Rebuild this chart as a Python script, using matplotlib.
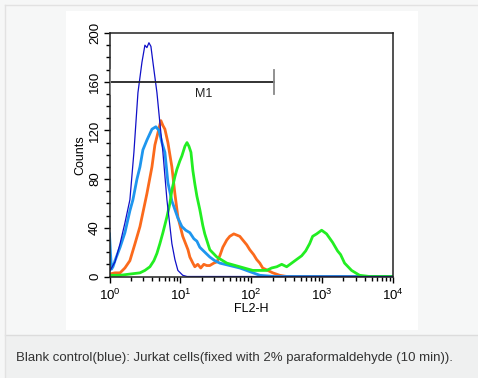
import numpy as np
import matplotlib
matplotlib.use('Agg')
import matplotlib.pyplot as plt
from matplotlib.patches import Rectangle
from matplotlib.lines import Line2D
import matplotlib.ticker as ticker

plt.rcParams['font.family'] = ['Liberation Sans', 'DejaVu Sans']

# ---------------------------------------------------------------------------
# Histogram traces (FL2-H value, counts)
# ---------------------------------------------------------------------------
blank_x = [1.0, 1.195, 1.41, 1.65, 1.94, 2.21, 2.52, 2.87, 3.16, 3.37, 3.60,
           3.84, 4.10, 4.67, 5.14, 5.67, 6.46, 7.59, 8.37, 9.22, 10.8, 12.4,
           10000]
blank_y = [4, 12, 27, 44, 63, 102, 151, 176, 190, 188, 192,
           189, 176, 151, 126, 102, 63, 27, 14, 5, 1, 0,
           0]

lblue_x = [1.0, 1.03, 1.067, 1.12, 1.195, 1.41, 1.65, 1.94, 2.14, 2.44, 2.69,
           2.96, 3.37, 3.97, 4.51, 4.98, 5.49, 6.05, 6.67, 7.59, 8.37, 9.22,
           10.5, 11.9, 13.6, 15.5, 17.1, 18.8, 22.1, 26.0, 30.6, 36.0, 49.8,
           68.9, 95.3, 132, 212, 10000]
lblue_y = [35, 20, 6, 8, 13, 24, 36, 54, 63, 80, 90,
           104, 112, 121, 123, 120, 110, 102, 77, 62, 55, 48,
           41, 38, 36, 31, 29, 24, 20, 16, 13, 11, 9,
           7, 4, 1, 0, 0]

orange_x = [1.0, 1.195, 1.41, 1.65, 1.94, 2.29, 2.69, 3.37, 3.97, 4.37, 4.82,
            5.31, 5.67, 6.05, 6.67, 7.11, 7.59, 8.37, 9.22, 10.8, 12.8, 13.6,
            15.0, 16.0, 17.6, 19.4, 21.4, 23.6, 26.0, 29.6, 32.7, 36.0, 39.7,
            45.2, 49.8, 56.7, 62.5, 68.9, 75.9, 86.4, 95.3, 108, 119, 132,
            145, 171, 201, 252, 316, 10000]
orange_y = [2, 3, 3, 7, 13, 27, 41, 68, 90, 108, 118,
            128, 124, 121, 110, 100, 90, 68, 49, 33, 22, 16,
            11, 8, 10, 7, 10, 9, 9, 11, 12, 17, 24,
            30, 33, 35, 34, 33, 30, 26, 22, 18, 14, 11,
            7, 5, 3, 1, 0, 0]

green_x = [1.0, 1.41, 1.94, 2.69, 3.16, 3.72, 4.23, 4.67, 5.14, 5.67, 6.46,
           7.11, 7.59, 8.37, 8.93, 9.84, 10.5, 11.6, 12.4, 13.2, 14.1, 15.0,
           16.0, 17.1, 18.8, 20.7, 22.1, 26.0, 32.7, 45.2, 68.9, 105, 165,
           194, 229, 269, 316, 372, 437, 514, 586, 667, 735, 837, 984,
           1156, 1406, 1652, 1822, 2074, 2603, 3372, 4668, 10000]
green_y = [1, 1, 2, 3, 5, 8, 13, 19, 27, 36, 49,
           60, 71, 82, 88, 95, 99, 107, 110, 107, 102, 87,
           76, 66, 55, 42, 35, 22, 16, 11, 8, 5, 5,
           7, 8, 10, 8, 11, 14, 17, 21, 27, 33, 35, 38,
           35, 28, 21, 18, 11, 5, 1, 0, 0]

# marker M1
m1_range = [1.0, 207]
m1_level = 160

y_ticks = [0, 40, 80, 120, 160, 200]

caption = ('Blank control(blue): Jurkat cells(fixed with 2% '
           'paraformaldehyde (10 min)).')

# ---------------------------------------------------------------------------
W, H = 478, 378
fig = plt.figure(figsize=(W / 100, H / 100), dpi=100)
fig.patch.set_facecolor('#f6f7f7')

def fx(px):
    return px / W

def fy(py):
    return 1 - py / H

# page chrome: white picture panel, caption band, borders
fig.patches.append(Rectangle((fx(66), fy(330)), fx(418) - fx(66), fy(11) - fy(330),
                             transform=fig.transFigure, facecolor='white',
                             edgecolor='none', zorder=-2))
fig.patches.append(Rectangle((fx(5), 0), 1 - fx(5), fy(335),
                             transform=fig.transFigure, facecolor='#eff0f0',
                             edgecolor='none', zorder=-2))
fig.lines.append(Line2D([fx(5), 1], [fy(335), fy(335)], transform=fig.transFigure,
                        color='#dcdcdc', lw=1, zorder=-1))
fig.lines.append(Line2D([fx(5), 1], [fy(5), fy(5)], transform=fig.transFigure,
                        color='#e2e2e2', lw=1, zorder=-1))
fig.lines.append(Line2D([fx(5), fx(5)], [0, fy(5)], transform=fig.transFigure,
                        color='#e2e2e2', lw=1, zorder=-1))

ax = fig.add_axes([fx(109.5), fy(276.5), fx(393) - fx(109.5), fy(33) - fy(276.5)])
ax.set_zorder(3)
ax.set_facecolor('white')

ax.plot(orange_x, orange_y, color='#fb6a1c', lw=2.0)
ax.plot(lblue_x, lblue_y, color='#1e96ee', lw=2.0)
ax.plot(green_x, green_y, color='#22ee22', lw=2.0)
ax.plot(blank_x, blank_y, color='#1010c8', lw=0.9)

ax.set_xscale('log')
ax.set_xlim(1, 10000)
ax.set_ylim(0, 200)
ax.set_yticks(y_ticks)
ax.set_yticklabels([str(v) for v in y_ticks], rotation=90, va='center')
ax.yaxis.set_minor_locator(ticker.MultipleLocator(10))
ax.xaxis.set_major_locator(ticker.LogLocator(base=10, numticks=10))
ax.xaxis.set_minor_locator(ticker.LogLocator(base=10, subs=np.arange(2, 10), numticks=10))
ax.xaxis.set_minor_formatter(ticker.NullFormatter())
ax.tick_params(which='major', direction='out', length=4, width=1, labelsize=9.5, pad=2)
ax.tick_params(axis='x', which='major', pad=4)
ax.tick_params(which='minor', direction='out', length=3, width=1)
for s in ax.spines.values():
    s.set_linewidth(1.1)
    s.set_color('#222222')

# M1 marker
ax.plot(m1_range, [m1_level, m1_level], color='#222222', lw=1.3, zorder=5)
for xv in m1_range:
    ax.plot([xv, xv], [m1_level - 10, m1_level + 10], color='#888888', lw=1.3, zorder=5)
ax.text(21, 150, 'M1', fontsize=9, ha='center', va='center', color='#222222')

ax.set_xlabel('FL2-H', fontsize=9, labelpad=0)
ax.set_ylabel('Counts', fontsize=9, labelpad=2)

fig.text(fx(16), fy(358), caption, fontsize=9.5, ha='left', va='center', color='#333333')

fig.savefig('out.png', dpi=100, facecolor=fig.get_facecolor())
